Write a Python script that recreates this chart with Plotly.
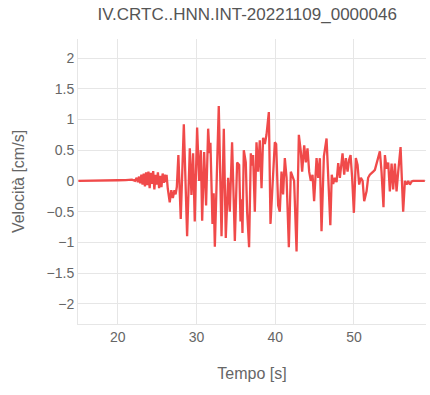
import plotly.graph_objects as go

# Time [s] and velocity [cm/s] vertices
tempo = [
    15.0, 16.0, 17.0, 18.0, 19.0, 20.0, 21.0, 21.8, 22.2, 22.4, 22.55, 22.7, 22.85,
    23.0, 23.15, 23.3, 23.45, 23.6, 23.75, 23.9, 24.05, 24.2, 24.35, 24.5, 24.65,
    24.8, 24.95, 25.1, 25.25, 25.4, 25.55, 25.7, 25.85, 26.0, 26.1, 26.2, 26.35,
    26.6, 26.8, 27.0, 27.2, 27.35, 27.5, 27.7, 28.0, 28.39, 28.81, 29.15, 29.36,
    29.57, 29.78, 30.08, 30.33, 30.55, 30.72, 30.97, 31.22, 31.48, 31.65, 31.77,
    32.03, 32.18, 32.33, 32.58, 32.83, 33.18, 33.47, 33.72, 34.02, 34.23, 34.52,
    34.87, 35.16, 35.42, 35.59, 35.72, 35.84, 36.01, 36.26, 36.43, 36.68, 36.9,
    37.05, 37.19, 37.41, 37.62, 37.83, 38.04, 38.26, 38.46, 38.68, 38.89, 39.19,
    39.4, 39.66, 39.95, 40.12, 40.37, 40.58, 40.8, 41.0, 41.22, 41.44, 41.73,
    41.98, 42.15, 42.4, 42.71, 43.0, 43.25, 43.42, 43.68, 43.89, 44.1, 44.31,
    44.52, 44.74, 44.94, 45.25, 45.45, 45.67, 45.88, 46.18, 46.52, 46.81, 47.0,
    47.18, 47.36, 47.57, 47.79, 48.0, 48.21, 48.55, 48.76, 48.97, 49.19, 49.39,
    49.57, 49.77, 49.99, 50.24, 50.46, 50.66, 50.88, 51.1, 51.3, 51.6, 51.8,
    52.02, 52.24, 52.44, 52.66, 52.95, 53.29, 53.5, 53.75, 53.93, 54.14, 54.35,
    54.56, 54.78, 54.98, 55.2, 55.41, 55.62, 55.92, 56.25, 56.47, 56.69, 56.89,
    57.1, 57.32, 57.52, 58.0, 58.5, 59.0,
]
velocita = [
    0.0, 0.004, 0.0, 0.006, 0.008, 0.01, 0.012, 0.02, 0.0, 0.05, -0.02, 0.07, -0.04,
    0.1, -0.06, 0.12, -0.09, 0.14, -0.07, 0.15, -0.12, 0.13, -0.05, 0.16, -0.14,
    0.1, -0.06, 0.14, -0.12, 0.08, -0.1, 0.12, -0.03, 0.1, -0.02, 0.1, -0.12,
    -0.35, -0.15, -0.28, -0.15, -0.22, -0.1, 0.42, -0.62, 0.92, -0.9, 0.53, -0.23,
    0.45, -0.66, 0.87, 0.0, 0.5, -0.65, 0.47, -0.4, 0.85, 0.45, 0.62,
    -0.7, -0.2, -1.07, 0.0, 1.22, -0.9, 0.85, -0.93, 0.05, -0.5, 0.63,
    -0.98, 0.3, 0.26, -0.66, -0.3, -0.85, 0.5, 0.3, -0.5, -1.08, 0.45,
    0.25, 0.42, -0.5, 0.63, 0.15, 0.66, -0.12, 0.7, 0.6, 0.75, 1.12,
    -0.7, 0.05, 0.63, 0.6, -0.4, -0.5, 0.15, -0.22, 0.37, 0.05, -1.08,
    0.15, 0.1, 0.0, -1.15, 0.75, 0.48, 0.15, 0.58, 0.3, 0.53, 0.15,
    0.0, 0.1, -0.33, 0.37, 0.05, 0.37, -0.82, 0.4, 0.69, -0.22, -0.72,
    0.1, -0.05, 0.05, -0.02, 0.29, 0.05, 0.45, 0.1, 0.37, 0.15, 0.35,
    0.42, 0.05, -0.52, 0.37, 0.26, -0.06, 0.05, 0.0, -0.33, -0.17, 0.05,
    0.1, 0.12, 0.15, 0.18, 0.3, 0.48, 0.15, -0.43, 0.42, 0.2, 0.3,
    -0.17, 0.28, -0.14, 0.28, -0.17, 0.15, 0.55, -0.5, 0.0, -0.06, 0.0,
    -0.06, -0.01, 0.0, 0.0, 0.0, 0.0,
]

titolo = "IV.CRTC..HNN.INT-20221109_0000046"
x_titolo = "Tempo [s]"
y_titolo = "Velocità [cm/s]"

font_family = "Liberation Sans, Arial, sans-serif"
grid_col = "#e6e6e6"

fig = go.Figure(
    go.Scatter(
        x=tempo, y=velocita, mode="lines",
        line=dict(color="#f04a4a", width=2.3),
        showlegend=False,
    )
)

fig.update_layout(
    width=430, height=395,
    margin=dict(l=78, r=4, t=39, b=71),
    paper_bgcolor="white", plot_bgcolor="white",
    font=dict(family=font_family, color="#666666", size=14),
    title=dict(text=titolo, x=0.575, xanchor="center", y=0.965, yanchor="middle",
               font=dict(size=17, color="#555555", family=font_family)),
)
fig.update_xaxes(
    range=[14.95, 59.15], dtick=10, tick0=0,
    showgrid=True, gridcolor=grid_col, gridwidth=1,
    showline=True, linecolor=grid_col, linewidth=1,
    zeroline=False, ticks="",
    tickfont=dict(size=14, color="#666666"),
    title=dict(text=x_titolo, font=dict(size=16, color="#666666"), standoff=24),
)
fig.update_yaxes(
    range=[-2.33, 2.31], dtick=0.5, tick0=0,
    showgrid=True, gridcolor=grid_col, gridwidth=1,
    showline=True, linecolor=grid_col, linewidth=1,
    zeroline=False, ticks="",
    tickfont=dict(size=14, color="#666666"),
    title=dict(text=y_titolo, font=dict(size=16, color="#666666"), standoff=17),
)

fig.write_html(
    "out.html",
    config={"displayModeBar": False},
    post_script="document.body.style.margin='0';document.body.style.overflow='hidden';",
)
